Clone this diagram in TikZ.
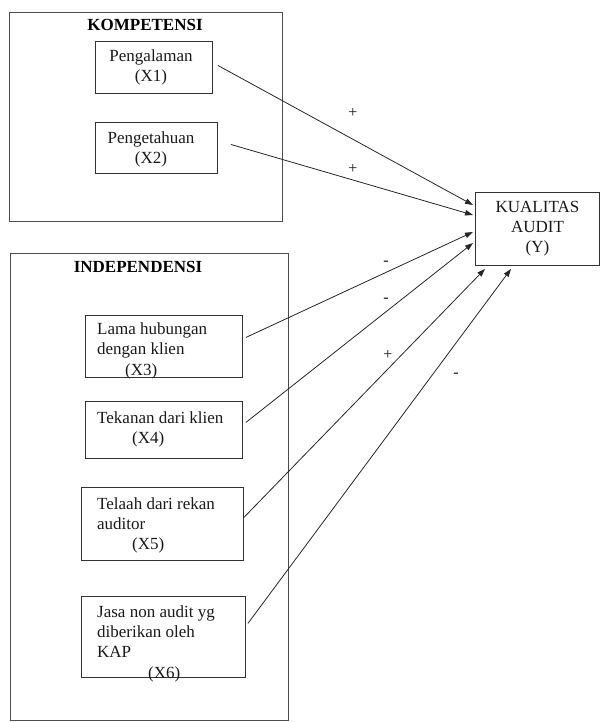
\documentclass[tikz,border=0pt]{standalone}
\usepackage{fontspec}
\setmainfont{Liberation Serif}
\usetikzlibrary{positioning,arrows.meta,calc}

\begin{document}
\begin{tikzpicture}[
  x=1pt, y=-1pt,
  font=\fontsize{17}{20}\selectfont,
  gbox/.style={draw=black!70, line width=1pt, anchor=north west, inner sep=0pt},
  vbox/.style={draw=black!80, line width=0.9pt, anchor=north west, inner sep=0pt, text=black!90},
  txt/.style={anchor=north west, inner sep=0pt, align=left, text=black!90},
  ttl/.style={font=\fontsize{17}{20}\selectfont\bfseries, inner sep=0pt, text=black},
  sgn/.style={font=\fontsize{16}{18}\selectfont, inner sep=0pt, text=black!90},
  arr/.style={-{Triangle[length=8pt,width=5.5pt]}, line width=0.8pt, draw=black!85}
]
  \useasboundingbox (0,0) rectangle (600,722);

  % kompetensi
  \node[gbox, minimum width=273, minimum height=209] (komp) at (9,12) {};
  \node[ttl] (kompt) at (145,25) {KOMPETENSI};
  \node[vbox, minimum width=117, minimum height=52] (x1) at (95,41) {};
  \node[txt, align=center, anchor=north] (x1t) at (151,50) {Pengalaman\\(X1)};
  \node[vbox, minimum width=122, minimum height=51] (x2) at (95,122) {};
  \node[txt, align=center, anchor=north] (x2t) at (151,132) {Pengetahuan\\(X2)};

  % independensi
  \node[gbox, minimum width=278, minimum height=467] (indep) at (10,253) {};
  \node[ttl] (indept) at (138,267) {INDEPENDENSI};
  \node[vbox, minimum width=157, minimum height=62] (x3) at (85,315) {};
  \node[txt] (x3t) at (97,323) {Lama hubungan\\dengan klien\\[1pt]\hspace*{28pt}(X3)};
  \node[vbox, minimum width=157, minimum height=57] (x4) at (85,401) {};
  \node[txt] (x4t) at (97,412) {Tekanan dari klien\\\hspace*{35pt}(X4)};
  \node[vbox, minimum width=162, minimum height=73] (x5) at (81,487) {};
  \node[txt] (x5t) at (97,497) {Telaah dari rekan\\auditor\\\hspace*{35pt}(X5)};
  \node[vbox, minimum width=164, minimum height=81] (x6) at (81,596) {};
  \node[txt] (x6t) at (97,605) {Jasa non audit yg\\diberikan oleh\\KAP\\[1pt]\hspace*{51pt}(X6)};

  % kualitas audit
  \node[vbox, minimum width=124, minimum height=73, align=center] (y) at (475,192) {KUALITAS\\AUDIT\\(Y)};

  \draw[arr] ($(x1.east)+(5,-2)$) -- ($(y.north west)+(-2,13)$);
  \draw[arr] ($(x2.east)+(13,-3.5)$) -- ($(y.north west)+(-2,23)$);
  \draw[arr] ($(x3.east)+(3,-9)$) -- ($(y.north west)+(-2,40)$);
  \draw[arr] ($(x4.east)+(3,-7.5)$) -- ($(y.north west)+(-2,51)$);
  \draw[arr] ($(x5.east)+(0,-6.5)$) -- ($(y.south west)+(10,3)$);
  \draw[arr] ($(x6.east)+(2,-13.5)$) -- ($(y.south west)+(36,3)$);

  \node[sgn] (s1) at (353,113) {+};
  \node[sgn] (s2) at (353,169) {+};
  \node[sgn] (s3) at (386,263) {-};
  \node[sgn] (s4) at (386,300) {-};
  \node[sgn] (s5) at (388,355) {+};
  \node[sgn] (s6) at (456,375) {-};
\end{tikzpicture}
\end{document}
